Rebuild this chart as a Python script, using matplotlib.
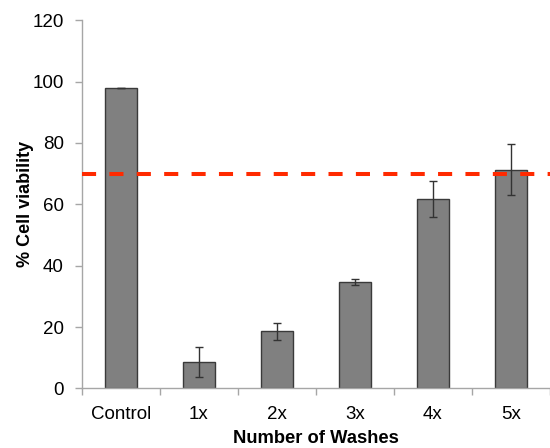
import numpy as np
import matplotlib.pyplot as plt
from matplotlib.ticker import FixedLocator

plt.rcParams['font.family'] = ['Liberation Sans', 'DejaVu Sans']

# Viability per wash count, mean and error
categories = ['Control', '1x', '2x', '3x', '4x', '5x']
viability = [97.8, 8.6, 18.6, 34.7, 61.7, 71.3]
errors = [0.0, 5.0, 2.7, 1.1, 5.8, 8.2]
threshold = 70

fig = plt.figure(figsize=(5.5, 4.48), dpi=100)
ax = fig.add_axes([0.149, 0.133, 0.851, 0.822])

x = np.arange(len(categories))
ax.bar(x, viability, width=0.41, color='#808080', edgecolor='#3a3a3a', linewidth=1.0,
       yerr=errors, error_kw=dict(ecolor='#333333', elinewidth=1.0, capsize=3, capthick=1.0),
       zorder=2)

ax.axhline(threshold, color='#ff2a00', linewidth=2.9, dashes=(3.5, 3.3), zorder=3)

ax.set_xlim(-0.5, len(categories) - 0.5)
ax.set_ylim(0, 120)
ax.set_yticks(np.arange(0, 121, 20))

ax.set_xticks(x)
ax.set_xticklabels(categories)
ax.xaxis.set_minor_locator(FixedLocator(np.arange(-0.5, len(categories), 1.0)))
ax.tick_params(axis='x', which='major', length=0, pad=13, labelsize=13.5, colors='#000000')
ax.tick_params(axis='x', which='minor', length=5, color='#a6a6a6', width=1)
ax.tick_params(axis='y', length=5, color='#a6a6a6', width=1, labelsize=13.5, pad=8)

for side in ('top', 'right'):
    ax.spines[side].set_visible(False)
for side in ('left', 'bottom'):
    ax.spines[side].set_color('#a6a6a6')
    ax.spines[side].set_linewidth(1)

ax.set_ylabel('% Cell viability', fontsize=13, fontweight='bold', labelpad=-1)
ax.set_xlabel('Number of Washes', fontsize=13.2, fontweight='bold', labelpad=5)

fig.savefig('out.png', dpi=100)
